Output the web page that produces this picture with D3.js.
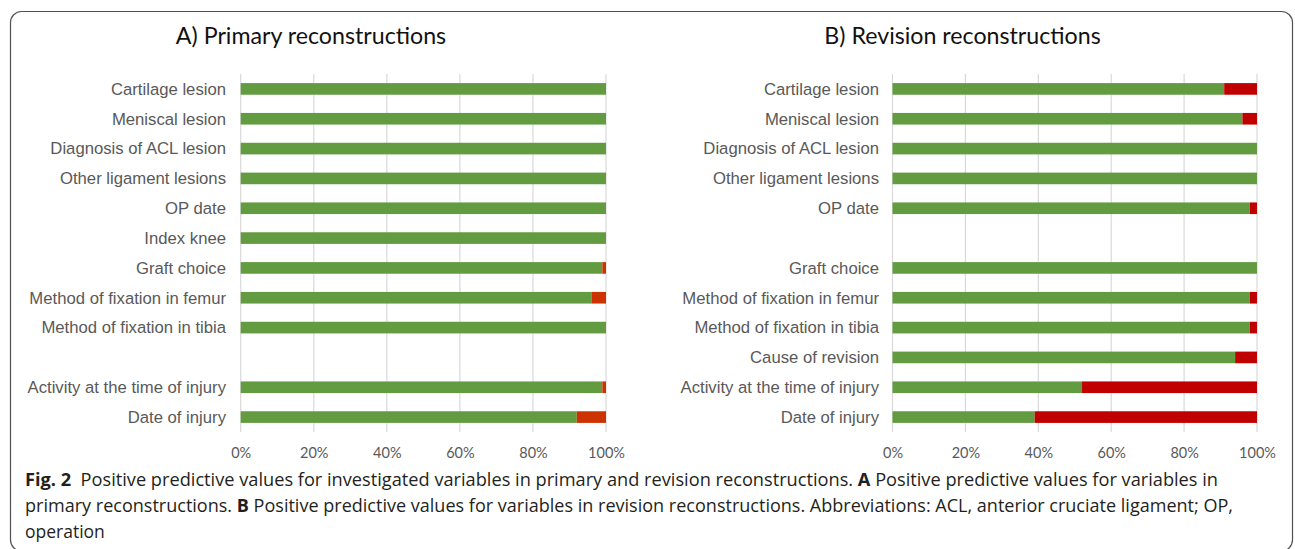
<!DOCTYPE html>
<html>
<head>
<meta charset="utf-8">
<script src="https://cdn.jsdelivr.net/npm/d3@7"></script>
<style>
  html, body { margin: 0; padding: 0; background: #fff; }
  svg { display: block; }
</style>
</head>
<body>
<svg id="chart" width="1295" height="549"></svg>
<script>
// ---------- data ----------
const categoriesPrimary = ["Cartilage lesion", "Meniscal lesion", "Diagnosis of ACL lesion", "Other ligament lesions", "OP date", "Index knee", "Graft choice", "Method of fixation in femur", "Method of fixation in tibia", "", "Activity at the time of injury", "Date of injury"];
const primaryPositive = [100, 100, 100, 100, 100, 100, 99, 96, 100, null, 99, 92];
const primaryNegative = [0, 0, 0, 0, 0, 0, 1, 4, 0, null, 1, 8];

const categoriesRevision = ["Cartilage lesion", "Meniscal lesion", "Diagnosis of ACL lesion", "Other ligament lesions", "OP date", "", "Graft choice", "Method of fixation in femur", "Method of fixation in tibia", "Cause of revision", "Activity at the time of injury", "Date of injury"];
const revisionPositive = [91, 96, 100, 100, 98, null, 100, 98, 98, 94, 52, 39];
const revisionNegative = [9, 4, 0, 0, 2, null, 0, 2, 2, 6, 48, 61];

const tickValues = [0, 20, 40, 60, 80, 100];
const tickLabels = ["0%", "20%", "40%", "60%", "80%", "100%"];

const panelTitles = ["A) Primary reconstructions", "B) Revision reconstructions"];
const captionLines = [
  [{t: "Fig. 2", b: true}, {t: "\u00A0 Positive predictive values for investigated variables in primary and revision reconstructions. ", b: false}, {t: "A", b: true}, {t: " Positive predictive values for variables in", b: false}],
  [{t: "primary reconstructions. ", b: false}, {t: "B", b: true}, {t: " Positive predictive values for variables in revision reconstructions. Abbreviations: ACL, anterior cruciate ligament; OP,", b: false}],
  [{t: "operation", b: false}]
];

// ---------- drawing ----------
const svg = d3.select("#chart");
const green = "#639B41";

svg.append("rect")
  .attr("x", 10.5).attr("y", 11.5)
  .attr("width", 1282).attr("height", 539.5)
  .attr("rx", 11).attr("ry", 11)
  .attr("fill", "none").attr("stroke", "#505050").attr("stroke-width", 1.2);

const panels = [
  {cats: categoriesPrimary, pos: primaryPositive, neg: primaryNegative, x0: 240.7, x1: 606, labelX: 226, titleX: 311, red: "#CC3300", title: panelTitles[0]},
  {cats: categoriesRevision, pos: revisionPositive, neg: revisionNegative, x0: 892.5, x1: 1257, labelX: 879, titleX: 962.5, red: "#C00000", title: panelTitles[1]}
];

panels.forEach(p => {
  const g = svg.append("g");
  const x = d3.scaleLinear().domain([0, 100]).range([p.x0, p.x1]);
  const y = d3.scaleBand().domain(d3.range(p.cats.length))
    .range([74, 432]).paddingInner(0.61).paddingOuter(0.305);

  // title
  g.append("text")
    .attr("x", p.titleX).attr("y", 44)
    .attr("text-anchor", "middle")
    .attr("font-family", "Lato, 'Open Sans', sans-serif")
    .attr("font-size", 23.2)
    .attr("fill", "#111")
    .text(p.title);

  // gridlines
  g.selectAll("line.grid").data(tickValues).enter().append("line")
    .attr("x1", d => x(d)).attr("x2", d => x(d))
    .attr("y1", 74).attr("y2", 432)
    .attr("stroke", "#d9d9d9").attr("stroke-width", 1.2);

  // x-axis tick labels
  const axis = d3.axisBottom(x).tickValues(tickValues)
    .tickFormat((d, i) => tickLabels[i]).tickSize(0).tickPadding(0);
  const ag = g.append("g").attr("transform", "translate(0,448)").call(axis);
  ag.select(".domain").remove();
  ag.selectAll("text")
    .attr("font-family", "Lato, 'Open Sans', sans-serif")
    .attr("font-size", 14.5)
    .attr("fill", "#595959")
    .attr("dy", "0.71em");

  // category labels
  g.selectAll("text.cat").data(p.cats).enter().append("text")
    .attr("x", p.labelX)
    .attr("y", (d, i) => y(i) + y.bandwidth() / 2)
    .attr("dy", "0.35em")
    .attr("text-anchor", "end")
    .attr("font-family", "'Liberation Sans', Arial, sans-serif")
    .attr("font-size", 16.7)
    .attr("fill", "#595959")
    .text(d => d);

  // positive bars
  const idx = d3.range(p.cats.length).filter(i => p.pos[i] !== null);
  g.selectAll("rect.pos").data(idx).enter().append("rect")
    .attr("x", x(0))
    .attr("y", i => y(i))
    .attr("width", i => x(p.pos[i]) - x(0))
    .attr("height", y.bandwidth())
    .attr("fill", green);
  // negative bars
  g.selectAll("rect.neg").data(idx.filter(i => p.neg[i] > 0)).enter().append("rect")
    .attr("x", i => x(p.pos[i]))
    .attr("y", i => y(i))
    .attr("width", i => x(p.pos[i] + p.neg[i]) - x(p.pos[i]))
    .attr("height", y.bandwidth())
    .attr("fill", p.red);
});

// caption
const capBase = [486, 512, 537.5];
const capLen = [1193, 1208, null];
captionLines.forEach((line, li) => {
  const t = svg.append("text")
    .attr("x", 25).attr("y", capBase[li])
    .attr("font-family", "'Open Sans', 'Noto Sans', sans-serif")
    .attr("font-size", 17.5)
    .attr("fill", "#231f20");
  if (capLen[li]) t.attr("textLength", capLen[li]).attr("lengthAdjust", "spacingAndGlyphs");
  line.forEach(seg => {
    t.append("tspan").attr("font-weight", seg.b ? 700 : 400).text(seg.t);
  });
});
</script>
</body>
</html>
